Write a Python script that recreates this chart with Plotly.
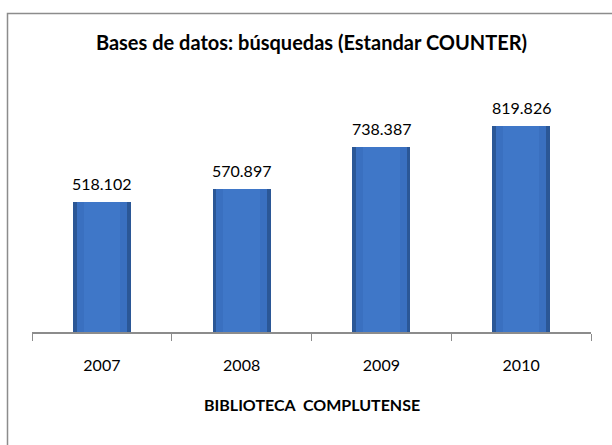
import plotly.graph_objects as go

years = ["2007", "2008", "2009", "2010"]
searches = [518102, 570897, 738387, 819826]
title_text = "Bases de datos: búsquedas (Estandar COUNTER)"
xaxis_title = "BIBLIOTECA\u00a0 COMPLUTENSE"

W, H = 612, 445
ML, MR, MT, MB = 32, 21, 81, 113
plot_w = W - ML - MR
plot_h = H - MT - MB

labels = [f"{v:,}".replace(",", ".") for v in searches]

fig = go.Figure()
# outer dark edge of bars
fig.add_trace(go.Bar(x=years, y=searches, width=0.415,
                     marker=dict(color="#2b5796", line=dict(width=0)),
                     hoverinfo="skip", showlegend=False))
# lighter face
fig.add_trace(go.Bar(x=years, y=searches, width=0.36,
                     marker=dict(color="#3a70c0", line=dict(width=0)),
                     hoverinfo="skip", showlegend=False))
# central highlight
fig.add_trace(go.Bar(x=years, y=searches, width=0.26,
                     marker=dict(color="#3f77c8", line=dict(width=0)),
                     hoverinfo="skip", showlegend=False))

for i, (v, lab) in enumerate(zip(searches, labels)):
    fig.add_annotation(x=i, y=v, text=lab, showarrow=False,
                       yanchor="bottom", yshift=7,
                       font=dict(family="Lato, Calibri, sans-serif", size=16, color="#000000"))

fig.add_annotation(xref="paper", yref="paper", x=0.5, y=(332 - 404) / plot_h,
                   text=f"<b>{xaxis_title}</b>", showarrow=False, yanchor="middle",
                   font=dict(family="Lato, Calibri, sans-serif", size=16, color="#000000"))

# chart border
fig.add_shape(type="rect", xref="paper", yref="paper",
              x0=(7.5 - ML) / plot_w, x1=(W + 20 - ML) / plot_w,
              y0=-(H + 20 - 332) / plot_h, y1=(332 - 13.5) / plot_h,
              line=dict(color="#8c8c8c", width=1.5), fillcolor="rgba(0,0,0,0)",
              layer="below")

fig.update_layout(
    width=W, height=H,
    margin=dict(l=ML, r=MR, t=MT, b=MB),
    paper_bgcolor="white", plot_bgcolor="white",
    barmode="overlay", bargap=0,
    title=dict(text=f"<b>{title_text}</b>", x=(311.5) / W, xanchor="center",
               y=1 - 43 / H, yanchor="middle",
               font=dict(family="Lato, Calibri, sans-serif", size=20, color="#000000")),
    xaxis=dict(type="category", range=[-0.5, 3.5], autorange=False,
               showline=True, linecolor="#8c8c8c", linewidth=1.5,
               ticks="outside", tickson="boundaries", ticklen=7, tickcolor="#8c8c8c",
               tickwidth=1, showgrid=False, ticklabelstandoff=18,
               tickfont=dict(family="Lato, Calibri, sans-serif", size=16, color="#000000")),
    yaxis=dict(range=[0, 1000000], visible=False, showgrid=False),
    showlegend=False,
)

fig.write_html("out.html", config={"displayModeBar": False},
               post_script="document.body.style.margin='0';document.body.style.overflow='hidden';")
